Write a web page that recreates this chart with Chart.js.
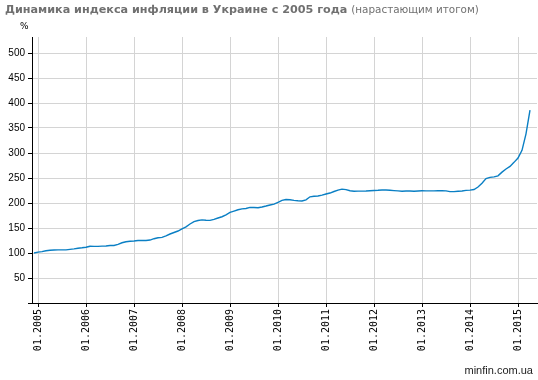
<!DOCTYPE html>
<html>
<head>
<meta charset="utf-8">
<script src="https://cdn.jsdelivr.net/npm/chart.js@4.4.1/dist/chart.umd.min.js"></script>
<style>
  body { margin: 0; background: #fff; }
  #wrap { position: relative; width: 538px; height: 380px; }
  #title { position: absolute; left: 5px; top: 3px; white-space: nowrap; color: #707070;
           font: bold 11.2px "DejaVu Sans", sans-serif; }
  #title span { font-weight: normal; font-size: 10.4px; }
  #unit { position: absolute; left: 20px; top: 21px; font: 9px "DejaVu Sans", sans-serif; color: #000; }
  #src { position: absolute; right: 5px; top: 364px; font: 11px "Liberation Sans", Arial, sans-serif; color: #222; }
</style>
</head>
<body>
<div id="wrap">
  <canvas id="chart" width="538" height="380"></canvas>
  <div id="title">Динамика индекса инфляции в Украине с 2005 года <span>(нарастающим итогом)</span></div>
  <div id="unit">%</div>
  <div id="src">minfin.com.ua</div>
</div>
<script>
// months from 12.2004 to 04.2015
var months = [];
months.push("12.2004");
for (var yr = 2005; yr <= 2015; yr++) {
    for (var m = 1; m <= 12; m++) {
        if (yr == 2015 && m > 4) break;
        months.push((m < 10 ? "0" + m : "" + m) + "." + yr);
    }
}

// cumulative inflation index, 12.2004 = 100
var index = [
    100,
    101.7, 102.7, 104.4, 105.5, 106.0, 106.2, 106.2, 106.2, 107.3, 108.3, 109.5, 110.4,
    111.6, 113.6, 113.2, 113.2, 113.8, 114.1, 115.1, 115.1, 117.4, 120.5, 122.4, 123.5,
    124.1, 124.9, 125.1, 125.1, 125.9, 128.6, 130.4, 131.2, 134.1, 138.0, 141.0, 144.0,
    148.2, 152.2, 158.0, 162.9, 165.0, 166.3, 165.5, 165.3, 167.1, 170.0, 172.5, 176.1,
    181.2, 183.9, 186.5, 188.2, 189.1, 191.2, 191.0, 190.6, 192.1, 193.9, 196.0, 197.8,
    201.4, 205.2, 207.0, 206.4, 205.2, 204.4, 204.0, 206.4, 212.4, 213.5, 214.1, 215.8,
    218.0, 219.9, 223.0, 225.9, 227.7, 226.8, 224.5, 223.6, 223.8, 223.8, 224.0, 224.5,
    225.0, 225.4, 226.1, 226.1, 225.4, 224.8, 224.3, 223.6, 223.9, 223.9, 223.6, 224.1,
    224.5, 224.3, 224.3, 224.3, 224.5, 224.5, 224.3, 222.7, 222.7, 223.6, 224.1, 225.2,
    225.7, 227.0, 232.0, 239.7, 248.8, 251.3, 252.3, 254.3, 261.7, 268.0, 273.1, 281.3,
    290.0, 305.4, 338.4, 385.8
];

var xTickLabels = ["01.2005", "01.2006", "01.2007", "01.2008", "01.2009", "01.2010",
                   "01.2011", "01.2012", "01.2013", "01.2014", "01.2015"];
var yTicks = [0, 50, 100, 150, 200, 250, 300, 350, 400, 450, 500];

var points = index.map(function (v, i) { return { x: i, y: v }; });

var ctx = document.getElementById('chart').getContext('2d');
var chart = new Chart(ctx, {
    type: 'line',
    data: {
        datasets: [{
            data: points,
            borderColor: '#0a7fc4',
            borderWidth: 1.4,
            pointRadius: 0,
            tension: 0,
            fill: false
        }]
    },
    options: {
        responsive: false,
        animation: false,
        devicePixelRatio: 1,
        layout: { padding: { top: 37, right: 1, left: 0, bottom: 0 } },
        plugins: { legend: { display: false }, tooltip: { enabled: false } },
        scales: {
            x: {
                type: 'linear',
                min: -0.5,
                max: 125.75,
                afterBuildTicks: function (scale) {
                    scale.ticks = xTickLabels.map(function (l) { return { value: months.indexOf(l) }; });
                },
                afterFit: function (scale) { scale.height = 77; },
                ticks: {
                    autoSkip: false,
                    minRotation: 90,
                    maxRotation: 90,
                    padding: 2,
                    color: '#000',
                    font: { family: 'DejaVu Sans Mono', size: 10 },
                    callback: function (v) { return months[v]; }
                },
                grid: { color: '#d4d4d4', tickColor: '#000', tickLength: 4 },
                border: { color: '#000', width: 1 }
            },
            y: {
                min: 0,
                max: 532,
                afterBuildTicks: function (scale) {
                    scale.ticks = yTicks.map(function (v) { return { value: v }; });
                },
                afterFit: function (scale) { scale.width = 32; },
                ticks: {
                    padding: 3,
                    color: '#000',
                    font: { family: 'Liberation Sans', size: 10 },
                    callback: function (v) { return v == 0 ? '' : v; }
                },
                grid: { color: '#d4d4d4', tickColor: '#000', tickLength: 4 },
                border: { color: '#000', width: 1 }
            }
        }
    }
});
</script>
</body>
</html>
